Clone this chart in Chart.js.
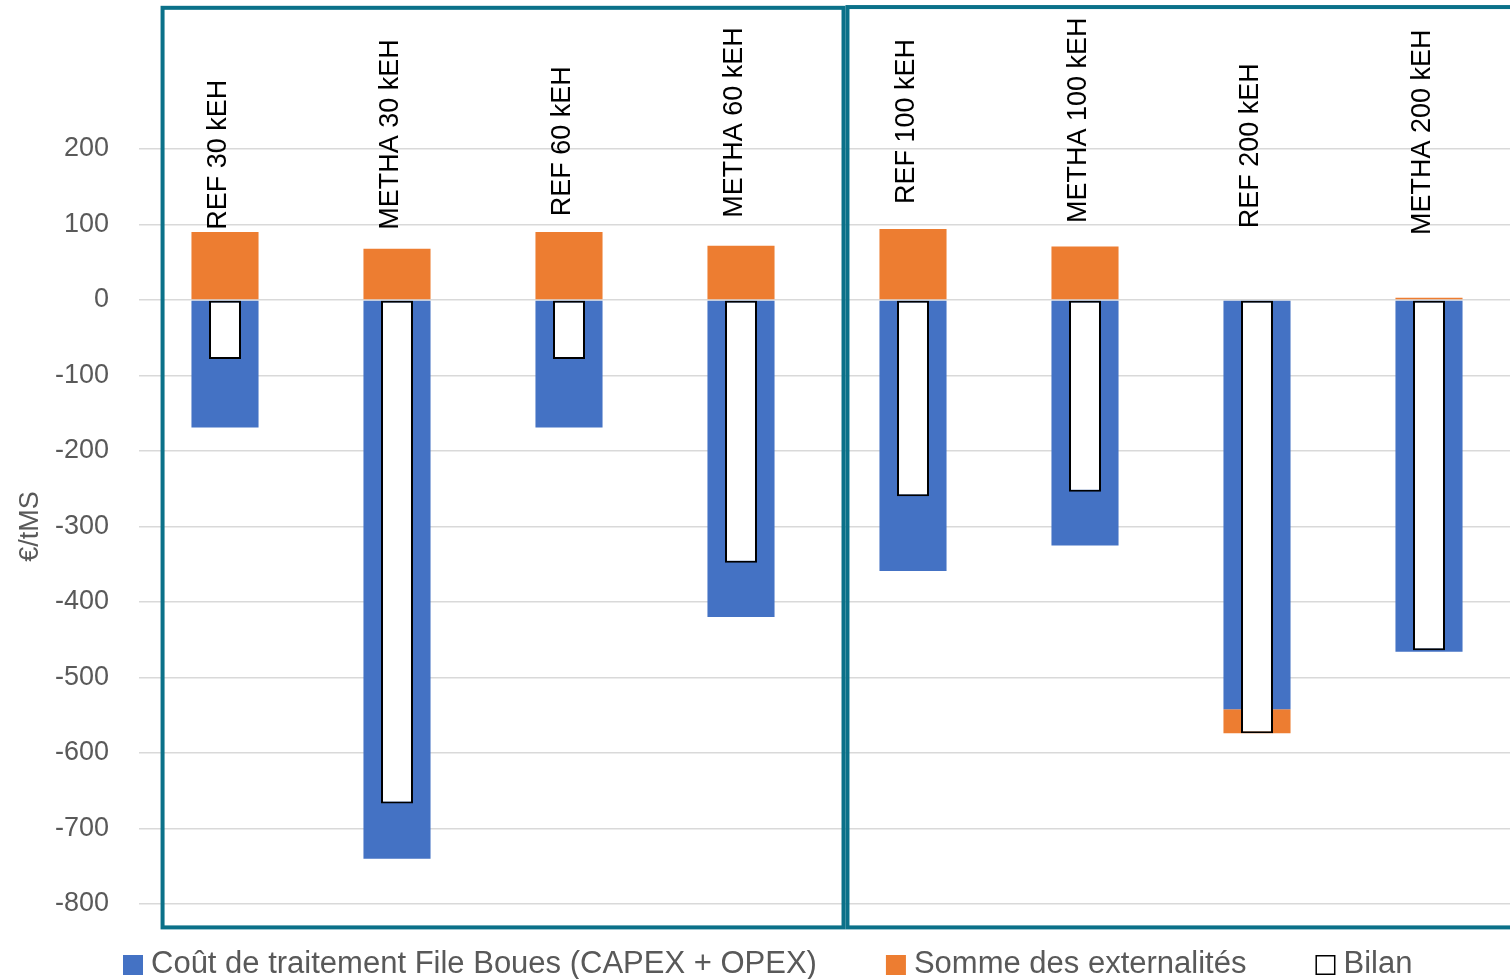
<!DOCTYPE html>
<html>
<head>
<meta charset="utf-8">
<script src="https://cdn.jsdelivr.net/npm/chart.js@4.4.1/dist/chart.umd.min.js"></script>
<style>
  html, body { margin: 0; padding: 0; background: #fff; overflow: hidden; }
  canvas { display: block; }
</style>
</head>
<body>
<canvas id="c" width="1516" height="979"></canvas>
<script>
// Scenarios (plant size in kEH)
const categories = ['REF 30 kEH', 'METHA 30 kEH', 'REF 60 kEH', 'METHA 60 kEH',
                    'REF 100 kEH', 'METHA 100 kEH', 'REF 200 kEH', 'METHA 200 kEH'];
// €/tMS
const coutTraitement = [-169, -740, -169, -420, -359, -325, -542, -466];
const externalites   = [90, 68, 90, 72, 94, 71, -32, 3];
const bilan          = [-78, -667, -78, -348, -260, -254, -574, -464];
// y ticks
const yMin = -800, yMax = 200, yStep = 100;

// value where each rotated scenario name starts
const labelBase = [93, 93, 111, 109, 127, 102, 95, 86];
// framed groups (category index range, value range)
const frames = [
  { from: -0.363, to: 3.596, top: 387, bottom: -831 },
  { from: 3.619, to: 7.8, top: 388, bottom: -831 }
];

const FONT = '"Liberation Sans", Arial, sans-serif';
const GREY = '#595959';
const TEAL = '#0b7189';

const scenarioLabels = {
  id: 'scenarioLabels',
  afterDatasetsDraw(chart) {
    const { ctx, scales: { x, y } } = chart;
    ctx.save();
    ctx.font = `27px ${FONT}`;
    ctx.fillStyle = '#000';
    ctx.textAlign = 'left';
    ctx.textBaseline = 'middle';
    categories.forEach((name, i) => {
      const px = x.getPixelForValue(i) - 6;
      const py = y.getPixelForValue(labelBase[i]);
      ctx.save();
      ctx.translate(px, py);
      ctx.rotate(-Math.PI / 2);
      ctx.fillText(name, 0, 0);
      ctx.restore();
    });
    ctx.restore();
  }
};

const groupFrames = {
  id: 'groupFrames',
  afterDatasetsDraw(chart) {
    const { ctx, scales: { x, y } } = chart;
    ctx.save();
    ctx.strokeStyle = TEAL;
    ctx.lineWidth = 4;
    frames.forEach(f => {
      const l = x.getPixelForValue(f.from), r = x.getPixelForValue(f.to);
      const t = y.getPixelForValue(f.top), b = y.getPixelForValue(f.bottom);
      ctx.strokeRect(l, t, r - l, b - t);
    });
    ctx.restore();
  }
};

const bottomLegend = {
  id: 'bottomLegend',
  afterDraw(chart) {
    const { ctx, chartArea } = chart;
    ctx.save();
    ctx.font = `31px ${FONT}`;
    ctx.textBaseline = 'middle';
    ctx.textAlign = 'left';
    let x = chartArea.left - 16;
    const yMid = chartArea.bottom + 61;
    chart.data.datasets.forEach(ds => {
      ctx.fillStyle = ds.backgroundColor;
      ctx.fillRect(x, yMid - 10, 20, 20);
      if (ds.borderWidth) {
        ctx.strokeStyle = ds.borderColor;
        ctx.lineWidth = 1.5;
        ctx.strokeRect(x + 0.75, yMid - 9.25, 18.5, 18.5);
      }
      ctx.fillStyle = GREY;
      ctx.fillText(ds.label, x + 28, yMid - 1);
      x += 28 + ctx.measureText(ds.label).width + 69;
    });
    ctx.restore();
  }
};

new Chart(document.getElementById('c'), {
  type: 'bar',
  data: {
    labels: categories,
    datasets: [
      { label: 'Coût de traitement File Boues (CAPEX + OPEX)', data: coutTraitement,
        backgroundColor: '#4472C4', stack: 'flux', barPercentage: 0.39, categoryPercentage: 1 },
      { label: 'Somme des externalités', data: externalites,
        backgroundColor: '#ED7D31', stack: 'flux', barPercentage: 0.39, categoryPercentage: 1 },
      { label: 'Bilan', data: bilan, backgroundColor: '#ffffff', borderColor: '#000000',
        borderWidth: 2, borderSkipped: false, stack: 'bilan', grouped: false,
        barPercentage: 0.186, categoryPercentage: 1, order: -1 }
    ]
  },
  options: {
    responsive: false,
    animation: false,
    layout: { padding: { top: 149, right: 1, bottom: 75, left: 14.6 } },
    plugins: { legend: { display: false }, tooltip: { enabled: false } },
    scales: {
      x: { type: 'category', stacked: true, display: false, offset: true },
      y: {
        stacked: true, min: yMin, max: yMax,
        afterFit(scale) { scale.width = 124.4; },
        ticks: { stepSize: yStep, font: { family: FONT, size: 27 }, color: GREY, padding: 30 },
        grid: { color: '#d9d9d9', lineWidth: 1.5, drawTicks: false },
        border: { display: false },
        title: { display: true, text: '€/tMS', font: { family: FONT, size: 27 }, color: GREY,
                 padding: { top: 0, bottom: 8 } }
      }
    }
  },
  plugins: [scenarioLabels, groupFrames, bottomLegend]
});
</script>
</body>
</html>
